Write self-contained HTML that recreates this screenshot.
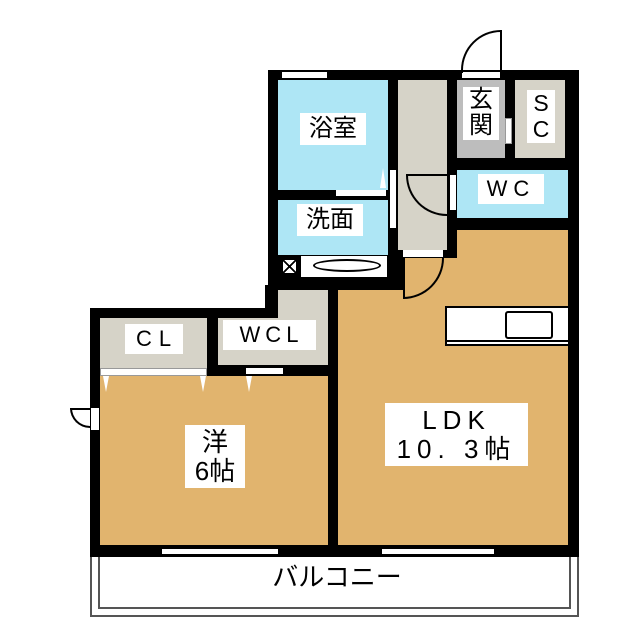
<!DOCTYPE html>
<html><head><meta charset="utf-8"><style>
body{margin:0;width:640px;height:640px;background:#fff;position:relative;overflow:hidden;font-family:"Liberation Sans","Noto Sans CJK JP",sans-serif}
div{position:absolute;box-sizing:border-box}
.k{background:#000}
.g{background:#d6d3c8}
.b{background:#aee6f5}
.t{background:#e1b46e}
.w{background:#fff}
.l{background:#fff;color:#000;text-align:center;line-height:1.1}
</style></head><body>
<!-- balcony -->
<div style="left:90px;top:555px;width:489px;height:62px;border:2px solid #555"></div>
<div style="left:98px;top:557px;width:473px;height:52px;border:2px solid #555;border-top:none"></div>
<div class="l" style="left:257px;top:563px;width:160px;font-size:26px;background:none">バルコニー</div>

<!-- walls base -->
<div class="k" style="left:268px;top:70px;width:311px;height:222px"></div>
<div class="k" style="left:328px;top:220px;width:251px;height:337px"></div>
<div class="k" style="left:90px;top:308px;width:250px;height:249px"></div>
<div class="k" style="left:265px;top:285px;width:75px;height:40px"></div>

<!-- rooms -->
<div class="b" style="left:278px;top:80px;width:110px;height:110px"></div>
<div class="w" style="left:282px;top:72px;width:45px;height:6px"></div>
<div style="left:380px;top:168px;width:0;height:0;border-left:3px solid transparent;border-right:3px solid transparent;border-bottom:20px solid #fff"></div>
<div class="b" style="left:278px;top:200px;width:110px;height:55px"></div>
<div class="w" style="left:336px;top:190px;width:50px;height:6px"></div>
<div class="w" style="left:300px;top:255px;width:88px;height:23px;border:1px solid #000"></div>
<div style="left:313px;top:259px;width:68px;height:13px;border:2px solid #000;border-radius:50%"></div>
<div class="w" style="left:281px;top:258px;width:17px;height:17px;border:2px solid #000;background:linear-gradient(45deg,transparent 45%,#000 45%,#000 55%,transparent 55%),linear-gradient(-45deg,#fff 45%,#000 45%,#000 55%,#fff 55%)"></div>
<div class="g" style="left:398px;top:80px;width:49px;height:170px"></div>
<div class="w" style="left:390px;top:170px;width:6px;height:58px"></div>
<div style="left:457px;top:80px;width:48px;height:78px;background:#bdbdbd"></div>
<div class="g" style="left:515px;top:80px;width:50px;height:78px"></div>
<div class="w" style="left:462px;top:72px;width:38px;height:6px"></div>
<div style="left:461px;top:30px;width:41px;height:43px;border:2px solid #000;border-bottom:none;border-top-left-radius:40px"></div>
<div class="w" style="left:505px;top:118px;width:7px;height:26px;border:1px solid #999"></div>
<div class="b" style="left:457px;top:170px;width:111px;height:48px"></div>
<div class="w" style="left:450px;top:175px;width:6px;height:35px"></div>
<div style="left:406px;top:174px;width:43px;height:42px;border:2px solid #000;border-right:none;border-bottom-left-radius:41px"></div>

<!-- LDK -->
<div class="t" style="left:338px;top:290px;width:230px;height:255px"></div>
<div class="t" style="left:403px;top:258px;width:165px;height:33px"></div>
<div class="t" style="left:457px;top:230px;width:111px;height:30px"></div>
<div class="w" style="left:403px;top:250px;width:40px;height:7px"></div>
<div style="left:403px;top:257px;width:41px;height:42px;border:2px solid #000;border-top:none;border-bottom-right-radius:41px"></div>
<div class="w" style="left:445px;top:306px;width:123px;height:40px;border:2px solid #000;border-right:none"></div>
<div style="left:447px;top:340px;width:121px;height:2px;background:#000"></div>
<div class="w" style="left:505px;top:311px;width:48px;height:28px;border:2px solid #000;border-radius:3px"></div>

<div class="g" style="left:278px;top:290px;width:50px;height:30px"></div>
<div class="g" style="left:100px;top:318px;width:107px;height:50px"></div>
<div class="g" style="left:218px;top:318px;width:110px;height:47px"></div>
<div class="w" style="left:100px;top:368px;width:107px;height:8px;border:1px solid #999"></div>
<div class="w" style="left:246px;top:368px;width:37px;height:6px"></div>
<div class="t" style="left:100px;top:376px;width:228px;height:169px"></div>
<div style="left:103px;top:376px;width:0;height:0;border-left:3px solid transparent;border-right:3px solid transparent;border-top:16px solid #fff"></div>
<div style="left:200px;top:376px;width:0;height:0;border-left:3px solid transparent;border-right:3px solid transparent;border-top:16px solid #fff"></div>
<div style="left:246px;top:376px;width:0;height:0;border-left:3px solid transparent;border-right:3px solid transparent;border-top:16px solid #fff"></div>
<div class="w" style="left:91px;top:408px;width:8px;height:22px"></div>
<div style="left:70px;top:408px;width:20px;height:20px;border:2px solid #000;border-right:none;border-radius:0 0 0 20px"></div>

<!-- windows bottom -->
<div class="w" style="left:162px;top:548px;width:116px;height:7px;border-top:1px solid #000;border-bottom:1px solid #000"></div>
<div class="w" style="left:382px;top:548px;width:112px;height:7px;border-top:1px solid #000;border-bottom:1px solid #000"></div>

<!-- labels -->
<div class="l" style="left:300px;top:113px;width:66px;font-size:24px;padding:3px 0">浴室</div>
<div class="l" style="left:297px;top:204px;width:66px;font-size:24px;padding:3px 0">洗面</div>
<div class="l" style="left:463px;top:87px;width:36px;font-size:24px">玄<br>関</div>
<div class="l" style="left:527px;top:90px;width:28px;font-size:23px;line-height:1.15">S<br>C</div>
<div class="l" style="left:478px;top:174px;width:66px;font-size:22px;letter-spacing:6px;padding:3px 0">WC</div>
<div class="l" style="left:125px;top:324px;width:58px;font-size:22px;letter-spacing:7px;padding:3px 0 3px 6px">CL</div>
<div class="l" style="left:223px;top:320px;width:93px;font-size:22px;letter-spacing:5px;padding:3px 0 3px 4px">WCL</div>
<div class="l" style="left:185px;top:425px;width:60px;font-size:26px;padding:3px 0">洋<br>6帖</div>
<div class="l" style="left:385px;top:403px;width:143px;font-size:26px;letter-spacing:6px;padding:3px 0">LDK<br>10. 3帖</div>
</body></html>
